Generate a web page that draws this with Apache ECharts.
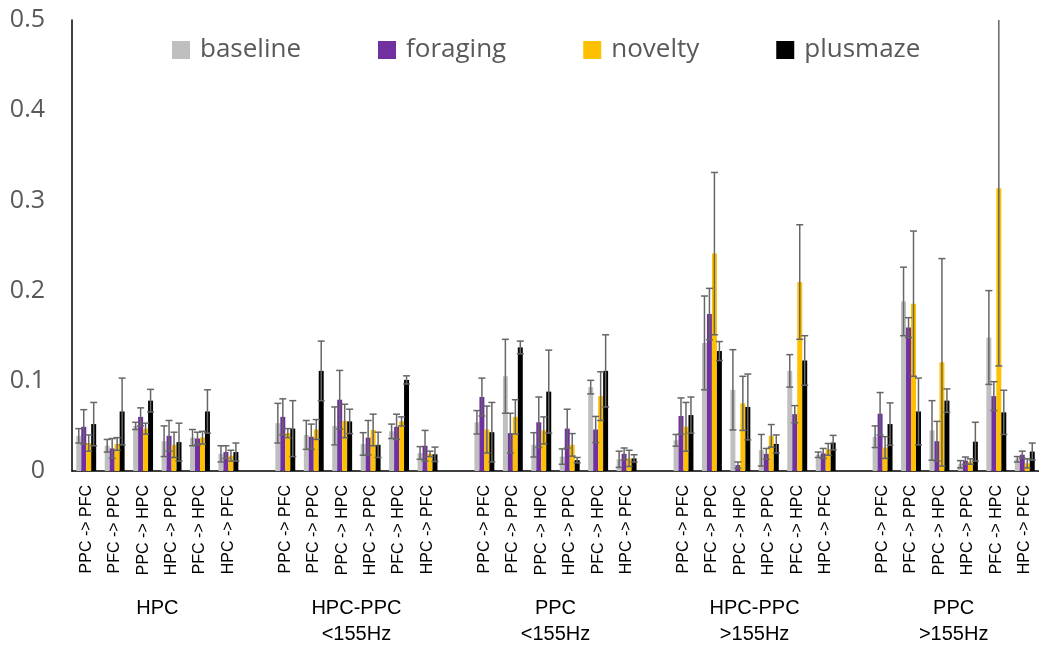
<!DOCTYPE html>
<html>
<head>
<meta charset="utf-8">
<script src="https://cdn.jsdelivr.net/npm/echarts@6/dist/echarts.min.js"></script>
<style>
  html, body { margin: 0; padding: 0; background: #fff; }
  #chart { width: 1039px; height: 646px; }
</style>
</head>
<body>
<div id="chart"></div>
<script>
// connections inside each group, and the groups themselves
var pathways = ['PPC -> PFC', 'PFC -> PPC', 'PPC -> HPC', 'HPC -> PPC', 'PFC -> HPC', 'HPC -> PFC'];
var groups = ['HPC', 'HPC-PPC\n<155Hz', 'PPC\n<155Hz', 'HPC-PPC\n>155Hz', 'PPC\n>155Hz'];
var yTicks = [0, 0.1, 0.2, 0.3, 0.4, 0.5];

// means, 6 values per group
var baseline = [
  0.039, 0.028, 0.050, 0.033, 0.037, 0.019,
  0.053, 0.040, 0.050, 0.030, 0.044, 0.020,
  0.054, 0.105, 0.029, 0.016, 0.093, 0.013,
  0.034, 0.142, 0.090, 0.023, 0.111, 0.018,
  0.038, 0.188, 0.045, 0.0075, 0.148, 0.013
];
var foraging = [
  0.049, 0.025, 0.060, 0.039, 0.036, 0.021,
  0.060, 0.038, 0.079, 0.037, 0.049, 0.028,
  0.082, 0.042, 0.054, 0.047, 0.046, 0.019,
  0.061, 0.174, 0.0065, 0.019, 0.063, 0.0195,
  0.0635, 0.159, 0.033, 0.0115, 0.083, 0.018
];
var novelty = [
  0.031, 0.030, 0.047, 0.029, 0.037, 0.017,
  0.042, 0.046, 0.0555, 0.0455, 0.055, 0.019,
  0.046, 0.060, 0.045, 0.029, 0.083, 0.014,
  0.049, 0.241, 0.075, 0.039, 0.2095, 0.024,
  0.026, 0.1855, 0.1205, 0.0105, 0.3135, 0.0085
];
var plusmaze = [
  0.052, 0.066, 0.078, 0.032, 0.066, 0.021,
  0.047, 0.111, 0.055, 0.029, 0.101, 0.0185,
  0.043, 0.137, 0.088, 0.012, 0.111, 0.014,
  0.062, 0.133, 0.071, 0.030, 0.1225, 0.0315,
  0.052, 0.066, 0.078, 0.0325, 0.065, 0.0215
];

// error bar half lengths
var baselineErr = [
  0.008, 0.007, 0.004, 0.017, 0.009, 0.009,
  0.022, 0.016, 0.021, 0.0125, 0.008, 0.007,
  0.013, 0.041, 0.0135, 0.0085, 0.0075, 0.009,
  0.0065, 0.052, 0.0445, 0.0175, 0.018, 0.003,
  0.012, 0.038, 0.033, 0.004, 0.052, 0.003
];
var foragingErr = [
  0.019, 0.011, 0.010, 0.017, 0.007, 0.007,
  0.020, 0.014, 0.0325, 0.019, 0.014, 0.017,
  0.021, 0.022, 0.028, 0.0215, 0.0145, 0.0065,
  0.020, 0.0285, 0.0035, 0.006, 0.0095, 0.0055,
  0.0235, 0.011, 0.022, 0.004, 0.016, 0.004
];
var noveltyErr = [
  0.009, 0.007, 0.006, 0.014, 0.007, 0.006,
  0.005, 0.011, 0.0185, 0.0175, 0.005, 0.003,
  0.026, 0.019, 0.015, 0.0125, 0.027, 0.009,
  0.027, 0.090, 0.030, 0.0125, 0.0635, 0.0065,
  0.012, 0.0805, 0.115, 0.003, 0.197, 0.005
];
var plusmazeErr = [
  0.024, 0.037, 0.0125, 0.021, 0.024, 0.010,
  0.031, 0.033, 0.0135, 0.014, 0.0045, 0.008,
  0.033, 0.007, 0.046, 0.003, 0.040, 0.004,
  0.020, 0.0105, 0.0365, 0.010, 0.0275, 0.008,
  0.0235, 0.037, 0.013, 0.0215, 0.0245, 0.0095
];

var seriesNames = ['baseline', 'foraging', 'novelty', 'plusmaze'];
var seriesColors = ['#bfbfbf', '#7030a0', '#ffc000', '#000000'];
var means = [baseline, foraging, novelty, plusmaze];
var errs = [baselineErr, foragingErr, noveltyErr, plusmazeErr];

var GAP = 0.3;   // barCategoryGap
var yMax = 0.5;

// build the category list with one empty slot between groups
var categories = [];
var slotOf = [];   // index in the 30 values -> category index
groups.forEach(function (g, gi) {
  if (gi > 0) categories.push('');
  pathways.forEach(function (p, pi) {
    slotOf.push(categories.length);
    categories.push(p);
  });
});

function barData(arr) {
  var out = categories.map(function () { return '-'; });
  arr.forEach(function (v, i) { out[slotOf[i]] = v; });
  return out;
}

function errData(m, e) {
  return m.map(function (v, i) { return [slotOf[i], v, e[i]]; });
}

function errRenderer(si) {
  return function (params, api) {
    var x = api.value(0), m = api.value(1), e = api.value(2);
    var band = api.size([1, 0])[0];
    var bw = band * (1 - GAP) / 4;
    var cx = api.coord([x, m])[0] + (si - 1.5) * bw;
    var clipped = m + e > yMax;
    var yHi = api.coord([x, Math.min(m + e, yMax)])[1];
    var yLo = api.coord([x, m - e])[1];
    var cap = 3.5;
    var style = { stroke: '#666666', lineWidth: 1.5 };
    var kids = [
      { type: 'line', shape: { x1: cx, y1: yHi, x2: cx, y2: yLo }, style: style },
      { type: 'line', shape: { x1: cx - cap, y1: yLo, x2: cx + cap, y2: yLo }, style: style }
    ];
    if (!clipped) {
      kids.push({ type: 'line', shape: { x1: cx - cap, y1: yHi, x2: cx + cap, y2: yHi }, style: style });
    }
    return { type: 'group', children: kids };
  };
}

var chart = echarts.init(document.getElementById('chart'));

var series = [];
seriesNames.forEach(function (name, si) {
  series.push({
    name: name,
    type: 'bar',
    data: barData(means[si]),
    itemStyle: { color: seriesColors[si] },
    barGap: '0%',
    barCategoryGap: (GAP * 100) + '%',
    animation: false
  });
});
seriesNames.forEach(function (name, si) {
  series.push({
    name: name + ' err',
    type: 'custom',
    data: errData(means[si], errs[si]),
    encode: { x: 0, y: 1 },
    renderItem: errRenderer(si),
    z: 5,
    animation: false
  });
});

// group labels under the pathway labels
series.push({
  name: 'groups',
  type: 'custom',
  data: groups.map(function (g, gi) { return [gi * 7 + 2, 0]; }),
  encode: { x: 0, y: 1 },
  renderItem: function (params, api) {
    var p = api.coord([api.value(0), 0]);
    var band = api.size([1, 0])[0];
    return {
      type: 'text',
      x: p[0] + band / 2,
      y: p[1] + 124,
      style: {
        text: groups[params.dataIndex],
        fill: '#000000',
        font: '20px "Liberation Sans", Arial, sans-serif',
        align: 'center',
        verticalAlign: 'top',
        lineHeight: 26
      }
    };
  },
  silent: true,
  animation: false
});

var option = {
  backgroundColor: '#ffffff',
  legend: {
    data: seriesNames,
    left: 167,
    top: 32,
    itemWidth: 18,
    itemHeight: 18,
    itemGap: 77,
    icon: 'rect',
    textStyle: {
      fontFamily: 'Open Sans',
      fontSize: 26,
      color: '#595959',
      padding: [0, 0, 0, 5]
    }
  },
  grid: {
    left: 72,
    right: 0,
    top: 20,
    bottom: 175
  },
  xAxis: {
    type: 'category',
    data: categories,
    axisTick: { show: false },
    axisLine: { show: true, lineStyle: { color: '#000000', width: 1.5 } },
    axisLabel: {
      interval: 0,
      rotate: 90,
      margin: 14,
      fontFamily: '"Liberation Sans", Arial, sans-serif',
      fontSize: 16,
      color: '#000000'
    },
    splitLine: { show: false }
  },
  yAxis: {
    type: 'value',
    min: yTicks[0],
    max: yTicks[yTicks.length - 1],
    interval: 0.1,
    axisLine: { show: true, lineStyle: { color: '#000000', width: 1.5 } },
    axisTick: { show: false },
    splitLine: { show: false },
    axisLabel: {
      margin: 27,
      fontFamily: 'Open Sans',
      fontSize: 25,
      color: '#595959',
      formatter: function (v) { return v === 0 ? '0' : v.toFixed(1); }
    }
  },
  series: series
};

option && chart.setOption(option);
window.addEventListener('resize', chart.resize);
</script>
</body>
</html>
